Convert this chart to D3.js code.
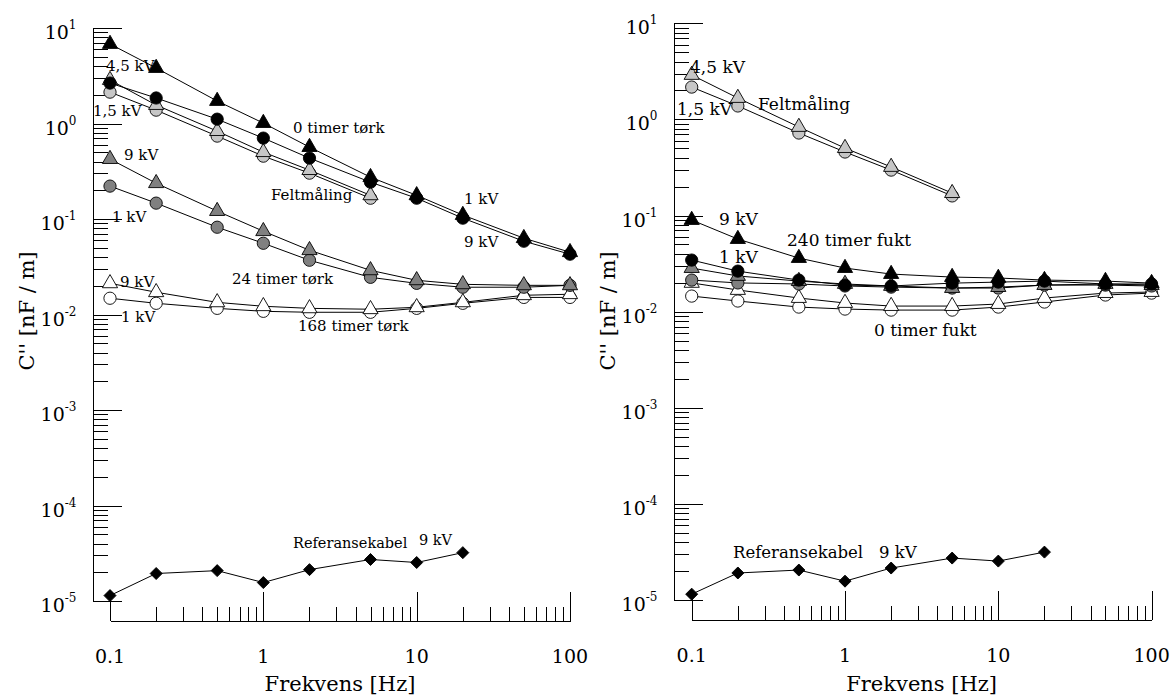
<!DOCTYPE html>
<html><head><meta charset="utf-8">
<script src="https://cdn.jsdelivr.net/npm/d3@7"></script>
<style>
body{margin:0;background:#fff}
text{font-family:"DejaVu Serif",serif;fill:#000}
</style>
</head><body>
<svg id="c" width="1171" height="697"></svg>
<script>
// ---------- DATA ----------
const freqs = [0.1, 0.2, 0.5, 1, 2, 5, 10, 20, 50, 100];
const freqsField = [0.1, 0.2, 0.5, 1, 2, 5];
const freqsRef = [0.1, 0.2, 0.5, 1, 2, 5, 10, 20];

// Left panel (tørk)
const left0h9kV   = [6.8, 3.81, 1.72, 1.01, 0.566, 0.274, 0.177, 0.110, 0.063, 0.0449];
const left0h1kV   = [2.65, 1.85, 1.11, 0.703, 0.434, 0.243, 0.165, 0.102, 0.0585, 0.0428];
const leftField45 = [2.85, 1.56, 0.832, 0.501, 0.325, 0.177];
const leftField15 = [2.13, 1.38, 0.738, 0.455, 0.302, 0.165];
const left24h9kV  = [0.424, 0.237, 0.121, 0.0745, 0.0471, 0.0290, 0.0228, 0.0207, 0.0202, 0.0202];
const left24h1kV  = [0.221, 0.1466, 0.082, 0.0557, 0.037, 0.0245, 0.0212, 0.0193, 0.0193, 0.0202];
const left168h9kV = [0.0212, 0.0171, 0.0134, 0.0122, 0.0116, 0.01135, 0.0119, 0.0134, 0.0159, 0.0163];
const left168h1kV = [0.0148, 0.0131, 0.0116, 0.0108, 0.01055, 0.01055, 0.0116, 0.0131, 0.0151, 0.0151];
const leftRef     = [1.14e-5, 1.94e-5, 2.08e-5, 1.56e-5, 2.13e-5, 2.72e-5, 2.53e-5, 3.21e-5];

// Right panel (fukt)
const rightField45 = [2.90, 1.67, 0.834, 0.503, 0.320, 0.171];
const rightField15 = [2.17, 1.38, 0.722, 0.458, 0.297, 0.160];
const right240h9kV = [0.0898, 0.0569, 0.0361, 0.0284, 0.0246, 0.0229, 0.0224, 0.0213, 0.0208, 0.0198];
const right240h1kV = [0.0344, 0.0264, 0.0213, 0.0189, 0.0185, 0.0198, 0.0203, 0.0208, 0.0194, 0.0194];
const rightMid9kV  = [0.0284, 0.0235, 0.0208, 0.0194, 0.0185, 0.0176, 0.0180, 0.0189, 0.0194, 0.0189];
const rightMid1kV  = [0.0213, 0.0199, 0.0194, 0.0185, 0.0180, 0.0176, 0.0176, 0.0189, 0.0189, 0.0185];
const right0h9kV   = [0.0199, 0.0168, 0.01386, 0.0123, 0.01143, 0.01143, 0.0120, 0.01386, 0.0156, 0.0160];
const right0h1kV   = [0.01452, 0.0129, 0.01116, 0.01064, 0.01038, 0.01038, 0.01116, 0.01259, 0.0149, 0.0156];
const rightRef     = [1.15e-5, 1.91e-5, 2.05e-5, 1.57e-5, 2.15e-5, 2.73e-5, 2.54e-5, 3.15e-5];

// Ticks
const xMajorTicks = [0.1, 1, 10, 100];
const xTickLabels = ["0.1", "1", "10", "100"];
const yExponents = [1, 0, -1, -2, -3, -4, -5];
const minorMultipliers = [2, 3, 4, 5, 6, 7, 8, 9];

const xTitle = "Frekvens [Hz]";
const yTitle = "C'' [nF / m]";

// ---------- STYLE ----------
const BLACK = "#000", DARK = "#808080", LIGHT = "#c6c6c6", WHITE = "#fff";

// ---------- DRAW ----------
const svg = d3.select("#c");
svg.append("rect").attr("width", 1171).attr("height", 697).attr("fill", "#fff");

function panel(cfg) {
  const g = svg.append("g");
  const x = d3.scaleLog().domain([0.1, 100]).range(cfg.xRange);
  const y = d3.scaleLog().domain([1e-5, 10]).range(cfg.yRange);

  // y axis ticks
  const yMajor = yExponents.map(e => Math.pow(10, e));
  const yMinor = [];
  yExponents.filter(e => e < 1).forEach(e => minorMultipliers.forEach(m => yMinor.push(m * Math.pow(10, e))));
  const yAx = d3.axisRight(y).tickValues(yMajor.concat(yMinor)).tickSize(15).tickSizeOuter(0).tickFormat("");
  const yg = g.append("g").attr("transform", `translate(${cfg.yAxisX},0)`).call(yAx);
  yg.selectAll(".tick line").filter(d => yMajor.some(v => Math.abs(v - d) / v < 1e-9)).attr("x2", 29);
  yg.selectAll("path,line").attr("stroke", "#000").attr("stroke-width", 1).attr("shape-rendering", "crispEdges");

  // y tick labels
  yExponents.forEach(e => {
    const t = g.append("text").attr("x", cfg.yAxisX - 16).attr("y", y(Math.pow(10, e)) + 11)
      .attr("text-anchor", "end");
    t.append("tspan").attr("font-size", 19).text("10");
    t.append("tspan").attr("font-size", 12).attr("dy", -10).text(String(e));
  });

  // x axis
  const xMinor = [];
  [0.1, 1, 10].forEach(b => minorMultipliers.forEach(m => xMinor.push(m * b)));
  const xAx = d3.axisTop(x).tickValues(xMajorTicks.concat(xMinor)).tickSize(14).tickSizeOuter(0).tickFormat("");
  const xg = g.append("g").attr("transform", `translate(0,${cfg.xAxisY})`).call(xAx);
  xg.selectAll(".tick line").filter(d => xMajorTicks.some(v => Math.abs(v - d) / v < 1e-9)).attr("y2", -29);
  xg.selectAll("path,line").attr("stroke", "#000").attr("stroke-width", 1).attr("shape-rendering", "crispEdges");

  xMajorTicks.forEach((v, i) => {
    g.append("text").attr("x", x(v)).attr("y", cfg.xAxisY + 42).attr("text-anchor", "middle")
      .attr("font-size", 19).text(xTickLabels[i]);
  });

  // titles
  g.append("text").attr("x", (cfg.xRange[0] + cfg.xRange[1]) / 2).attr("y", 691)
    .attr("text-anchor", "middle").attr("font-size", 21).text(xTitle);
  g.append("text").attr("transform", `translate(${cfg.yAxisX - 59},311) rotate(-90)`)
    .attr("text-anchor", "middle").attr("font-size", 21).text(yTitle);

  // lines
  const line = d3.line().x(d => x(d[0])).y(d => y(d[1]));
  cfg.series.forEach(s => {
    g.append("path").datum(s.xs.map((f, i) => [f, s.vals[i]]))
      .attr("d", line).attr("fill", "none").attr("stroke", "#000").attr("stroke-width", 1);
  });

  // markers
  const sym = {
    circle: d3.symbol().type(d3.symbolCircle).size(118),
    triangle: d3.symbol().type(d3.symbolTriangle).size(100),
    diamond: d3.symbol().type(d3.symbolSquare).size(72)
  };
  cfg.series.forEach(s => {
    g.append("g").selectAll("path").data(s.xs.map((f, i) => [f, s.vals[i]])).join("path")
      .attr("d", sym[s.shape]())
      .attr("transform", d => `translate(${x(d[0])},${y(d[1])})` + (s.shape === "diamond" ? " rotate(45)" : ""))
      .attr("fill", s.fill).attr("stroke", "#000").attr("stroke-width", 0.9);
  });

  // annotations
  cfg.labels.forEach(l => {
    const t = g.append("text").attr("x", l[1]).attr("y", l[2]).attr("font-size", l[3] || cfg.labelSize).text(l[0]);
  });
}

panel({
  xRange: [110, 570], yRange: [601, 28], yAxisX: 92.5, xAxisY: 620.5, labelSize: 15,
  series: [
    {xs: freqs, vals: left168h1kV, shape: "circle", fill: WHITE},
    {xs: freqs, vals: left168h9kV, shape: "triangle", fill: WHITE},
    {xs: freqs, vals: left24h1kV, shape: "circle", fill: DARK},
    {xs: freqs, vals: left24h9kV, shape: "triangle", fill: DARK},
    {xs: freqsField, vals: leftField15, shape: "circle", fill: LIGHT},
    {xs: freqsField, vals: leftField45, shape: "triangle", fill: LIGHT},
    {xs: freqs, vals: left0h1kV, shape: "circle", fill: BLACK},
    {xs: freqs, vals: left0h9kV, shape: "triangle", fill: BLACK},
    {xs: freqsRef, vals: leftRef, shape: "diamond", fill: BLACK}
  ],
  labels: [
    ["4,5 kV", 106, 71], ["1,5 kV", 93, 116], ["9 kV", 124, 160], ["1 kV", 112, 222],
    ["9 kV", 120, 287], ["1 kV", 121, 322],
    ["0 timer tørk", 293, 133], ["Feltmåling", 271, 200], ["1 kV", 464, 204], ["9 kV", 464, 247],
    ["24 timer tørk", 232, 284], ["168 timer tørk", 298, 331],
    ["Referansekabel", 293, 548, 14.5], ["9 kV", 419, 545, 14.5]
  ]
});

panel({
  xRange: [691.7, 1151.6], yRange: [600, 23.3], yAxisX: 673.5, xAxisY: 619.5, labelSize: 17,
  series: [
    {xs: freqs, vals: right0h1kV, shape: "circle", fill: WHITE},
    {xs: freqs, vals: right0h9kV, shape: "triangle", fill: WHITE},
    {xs: freqs, vals: rightMid1kV, shape: "circle", fill: DARK},
    {xs: freqs, vals: rightMid9kV, shape: "triangle", fill: DARK},
    {xs: freqs, vals: right240h1kV, shape: "circle", fill: BLACK},
    {xs: freqs, vals: right240h9kV, shape: "triangle", fill: BLACK},
    {xs: freqsField, vals: rightField15, shape: "circle", fill: LIGHT},
    {xs: freqsField, vals: rightField45, shape: "triangle", fill: LIGHT},
    {xs: freqsRef, vals: rightRef, shape: "diamond", fill: BLACK}
  ],
  labels: [
    ["4,5 kV", 690, 73], ["1,5 kV", 677, 115], ["Feltmåling", 758, 110],
    ["9 kV", 719, 225], ["240 timer fukt", 787, 246], ["1 kV", 719, 263],
    ["0 timer fukt", 874, 336],
    ["Referansekabel", 733, 558, 16.5], ["9 kV", 879, 558, 16.5]
  ]
});
</script>
</body></html>
